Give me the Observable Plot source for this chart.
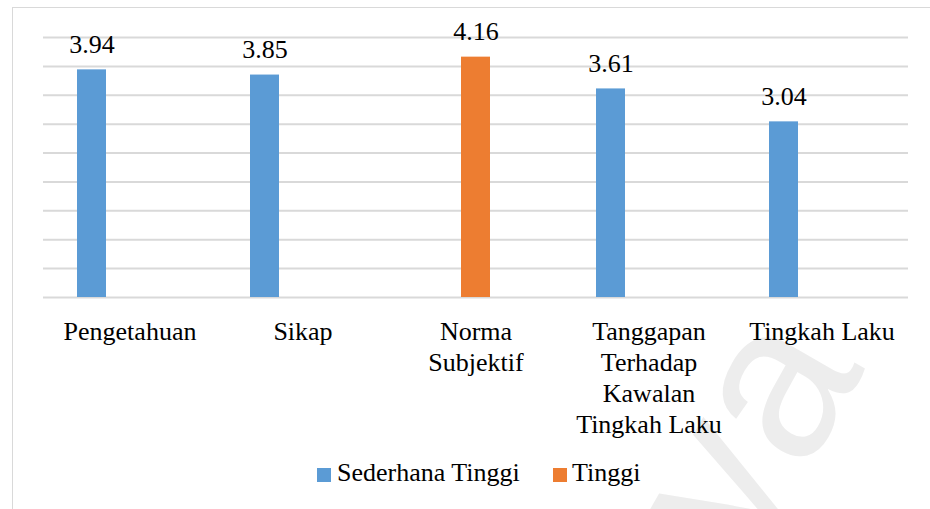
<!DOCTYPE html>
<html><head><meta charset="utf-8">
<script src="https://cdn.jsdelivr.net/npm/d3@7"></script>
<script src="https://cdn.jsdelivr.net/npm/@observablehq/plot@0.6"></script>
</head>
<body style="margin:0;padding:0;background:#fff;font-family:'Liberation Serif','Times New Roman',serif">
<div style="position:absolute;left:12px;top:7px;width:960px;height:560px;border:1px solid #d9d9d9;box-sizing:border-box"></div>
<svg style="position:absolute;left:0;top:0" width="930" height="509"><text x="0" y="0" transform="translate(688,676) rotate(-60)" font-family="Liberation Sans" font-size="220" fill="#ededed">aya</text></svg>
<div id="chart" style="position:absolute;left:0;top:0"></div>
<div id="legend" style="position:absolute;left:0;top:0;width:930px;font-size:26px;color:#000"></div>
<script>
// ---- data ----
const categories = ["Pengetahuan", "Sikap", "Norma\nSubjektif", "Tanggapan\nTerhadap\nKawalan\nTingkah Laku", "Tingkah Laku"];
const values = [3.94, 3.85, 4.16, 3.61, 3.04];
const levels = ["Sederhana Tinggi", "Sederhana Tinggi", "Tinggi", "Sederhana Tinggi", "Sederhana Tinggi"];
const seriesNames = ["Sederhana Tinggi", "Tinggi"];
const seriesColors = ["#5b9bd5", "#ed7d31"];
const slots = ["Sederhana Tinggi", "Tinggi", " "];
const yTicks = [0, 0.5, 1, 1.5, 2, 2.5, 3, 3.5, 4, 4.5];

const data = categories.map((c, i) => ({category: c, value: values[i], level: levels[i]}));
const serifFont = "Liberation Serif";

const chart = Plot.plot({
  width: 930, height: 445,
  marginLeft: 42, marginRight: 21, marginTop: 37, marginBottom: 148,
  style: {fontFamily: serifFont, fontSize: "26px", background: "transparent"},
  fx: {domain: categories, padding: 0, label: null},
  x: {domain: slots, paddingInner: 0.225, paddingOuter: 0.853, axis: null},
  y: {domain: [0, 4.5], axis: null},
  color: {domain: seriesNames, range: seriesColors},
  marks: [
    Plot.ruleY(yTicks, {stroke: "#d9d9d9", strokeWidth: 2}),
    Plot.barY(data, {fx: "category", x: "level", y: "value", fill: "level"}),
    Plot.text(data, {fx: "category", x: "level", y: "value", text: d => d.value.toFixed(2),
      lineAnchor: "bottom", dy: -17, fontSize: 26, fontFamily: serifFont, fill: "#000"}),
    Plot.axisFx({anchor: "bottom", tickSize: 0, tickPadding: 21, fontSize: 26, fontFamily: serifFont,
      lineHeight: 1.19, label: null, fill: "#000"})
  ]
});
d3.select(chart).selectAll("text, tspan").attr("font-family", serifFont).style("font-family", serifFont);
document.getElementById("chart").appendChild(chart);

// ---- legend ----
const legend = document.getElementById("legend");
const legendPos = [{sq: 317, tx: 337}, {sq: 553, tx: 572}];
seriesNames.forEach((name, i) => {
  const sw = document.createElement("div");
  sw.style.position = "absolute"; sw.style.width = "14px"; sw.style.height = "14px";
  sw.style.left = legendPos[i].sq + "px"; sw.style.top = "468px";
  sw.style.background = seriesColors[i];
  legend.appendChild(sw);
  const t = document.createElement("div");
  t.style.position = "absolute"; t.style.whiteSpace = "nowrap"; t.style.lineHeight = "26px";
  t.style.fontFamily = serifFont;
  t.style.left = legendPos[i].tx + "px"; t.style.top = "460px";
  t.textContent = name;
  legend.appendChild(t);
});
</script>
</body></html>
